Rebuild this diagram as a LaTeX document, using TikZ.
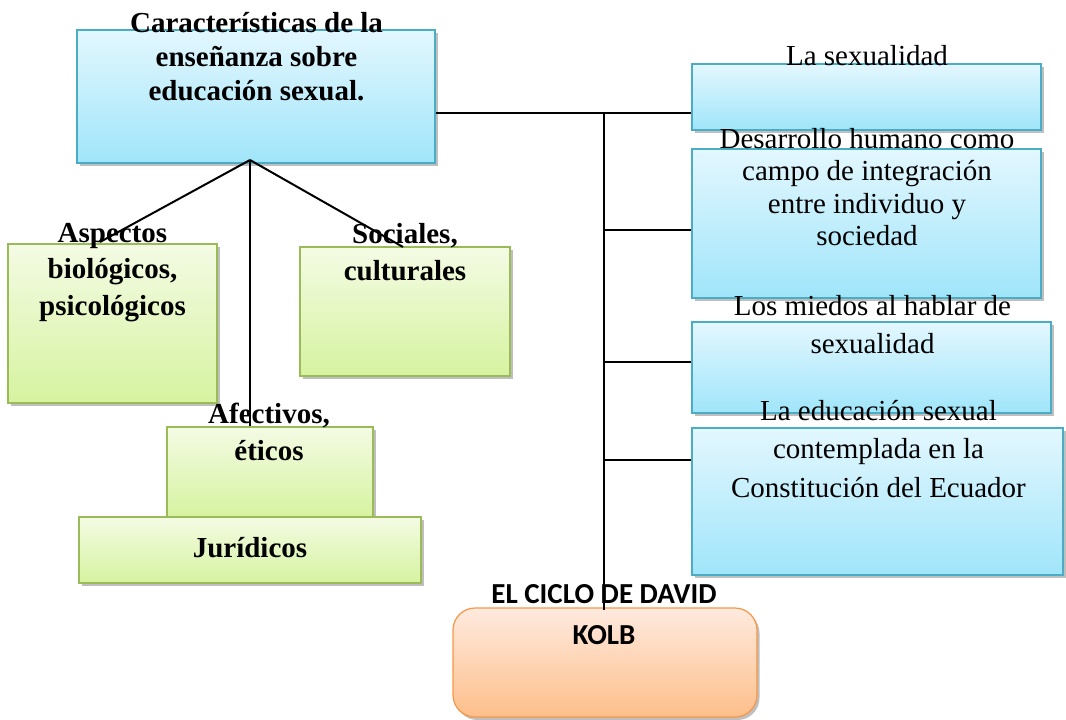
\documentclass[tikz,border=0pt]{standalone}
\usepackage{fontspec}
\setmainfont{Liberation Serif}
\newfontfamily\calibri{Carlito}
\usetikzlibrary{shadows}
\definecolor{bluetop}{HTML}{E3F7FE}
\definecolor{bluebot}{HTML}{A0E5FA}
\definecolor{blueedge}{HTML}{4BACC6}
\definecolor{greentop}{HTML}{F4FBE4}
\definecolor{greenbot}{HTML}{D6F3A0}
\definecolor{greenedge}{HTML}{9BBB59}
\definecolor{orangetop}{HTML}{FEEADF}
\definecolor{orangebot}{HTML}{FDBF8A}
\definecolor{orangeedge}{HTML}{F79646}
\begin{document}
\begin{tikzpicture}[x=1pt,y=-1pt,
  box/.style={draw, line width=1.2pt, inner sep=0pt,
    drop shadow={shadow xshift=2.5pt, shadow yshift=-3pt, fill=black, opacity=0.25}},
  bluebox/.style={box, draw=blueedge, top color=bluetop, bottom color=bluebot},
  greenbox/.style={box, draw=greenedge, top color=greentop, bottom color=greenbot},
  orangebox/.style={box, draw=orangeedge, top color=orangetop, bottom color=orangebot, rounded corners=22pt},
  txt/.style={anchor=base, align=center, inner sep=0pt},
  conn/.style={draw=black, line width=1.6pt},
  diag/.style={draw=black, line width=2pt},
  thin/.style={draw=black, line width=1.3pt}
]
\useasboundingbox (0,0) rectangle (1066,720);

% boxes
\node[bluebox, minimum width=358pt, minimum height=133pt] (top) at (256,96.5) {};
\node[greenbox, minimum width=209pt, minimum height=159pt] (g1) at (112.5,323.5) {};
\node[greenbox, minimum width=210pt, minimum height=129pt] (g2) at (405,311.5) {};
\node[greenbox, minimum width=206pt, minimum height=90pt] (g3) at (270,472) {};
\node[greenbox, minimum width=342pt, minimum height=66pt] (g4) at (250,550) {};
\node[bluebox, minimum width=349pt, minimum height=66pt] (r1) at (866.5,97) {};
\node[bluebox, minimum width=349pt, minimum height=149pt] (r2) at (866.5,223.5) {};
\node[bluebox, minimum width=359pt, minimum height=91pt] (r3) at (871.5,367.5) {};
\node[bluebox, minimum width=371pt, minimum height=147pt] (r4) at (877.5,501.5) {};
\node[orangebox, minimum width=304pt, minimum height=109pt] (kolb) at (605,662.5) {};

% texts (anchor base = baseline of the last line)
\node[txt, font=\fontsize{29}{34}\selectfont\bfseries] (ttop) at (256.5,100) {Características de la\\enseñanza sobre\\educación sexual.};
\node[txt, font=\fontsize{29}{36.5}\selectfont\bfseries] (tg1) at (112.5,315) {Aspectos\\biológicos,\\psicológicos};
\node[txt, font=\fontsize{29}{37}\selectfont\bfseries] (tg2) at (405,280) {Sociales,\\culturales};
\node[txt, font=\fontsize{29}{37}\selectfont\bfseries] (tg3) at (269,460) {Afectivos,\\éticos};
\node[txt, font=\fontsize{29}{37}\selectfont\bfseries] (tg4) at (250,557) {Jurídicos};
\node[txt, font=\fontsize{29}{34}\selectfont] (tr1) at (867,65) {La sexualidad};
\node[txt, font=\fontsize{29}{32.5}\selectfont] (tr2) at (867,245.5) {Desarrollo humano como\\campo de integración\\entre individuo y\\sociedad};
\node[txt, font=\fontsize{29}{38}\selectfont] (tr3) at (872.5,353) {Los miedos al hablar de\\sexualidad};
\node[txt, font=\fontsize{29}{38.5}\selectfont] (tr4) at (878.5,497) {La educación sexual\\contemplada en la\\Constitución del Ecuador};
\node[txt, font=\fontsize{29}{41}\selectfont\calibri\bfseries] (tk) at (604,644) {EL CICLO DE DAVID\\KOLB};

% connector points
\coordinate (hub) at (250,160);
\coordinate (e1) at (100,242);
\coordinate (e2) at (403,247);
\coordinate (j) at (604,113);
\coordinate (b2) at (604,230);
\coordinate (b3) at (604,362);
\coordinate (b4) at (604,460);
\coordinate (jend) at (604,610);

% connectors
\draw[diag] (hub) -- (e1);
\draw[diag] (hub) -- (e2);
\draw[thin] (hub) -- (g3.north -| hub);
\draw[conn] (top.east |- j) -- (r1.west |- j);
\draw[conn] (j) -- (jend);
\draw[conn] (b2) -- (r2.west |- b2);
\draw[conn] (b3) -- (r3.west |- b3);
\draw[conn] (b4) -- (r4.west |- b4);
\end{tikzpicture}
\end{document}
